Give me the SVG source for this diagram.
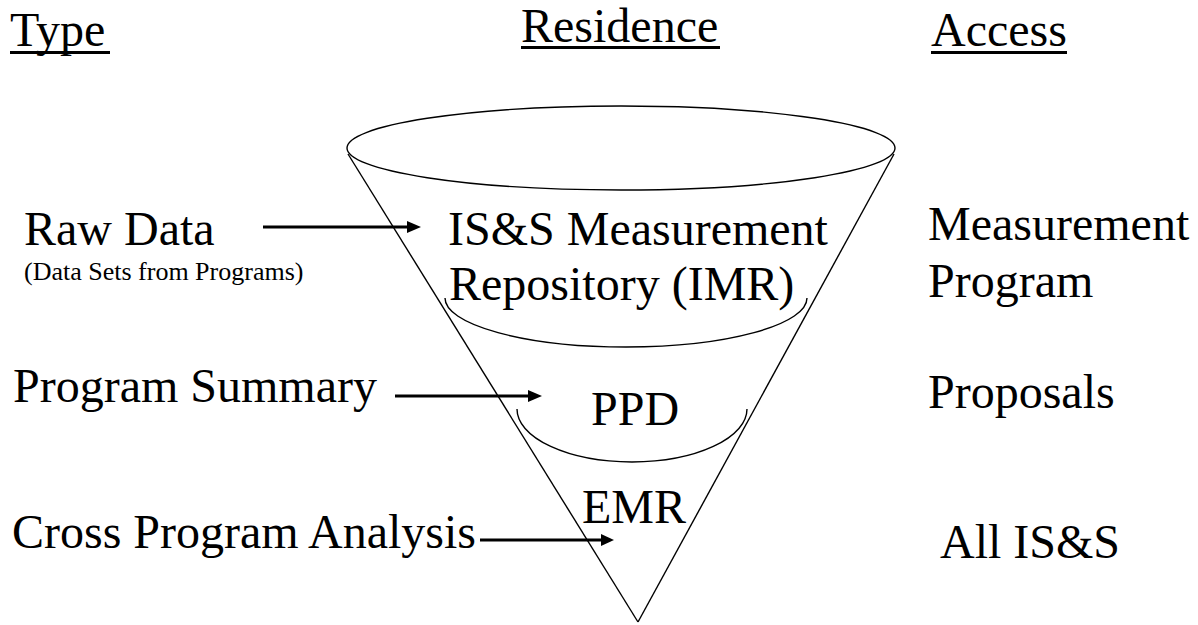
<svg xmlns="http://www.w3.org/2000/svg" width="1198" height="625" viewBox="0 0 1198 625">
  <style>
    text { font-family: "Liberation Serif", "Times New Roman", serif; fill: #000; font-size: 48px; }
    .small { font-size: 26px; }
    .outline { fill: none; stroke: #000; stroke-width: 1.4; }
    .rule { fill: #000; }
    .shaft { stroke: #000; stroke-width: 3; fill: none; }
    .head { fill: #000; }
  </style>

  <rect width="1198" height="625" fill="#fff"/>

  <!-- Column headings -->
  <g id="headings">
    <text x="10" y="46">Type</text>
    <rect class="rule" x="10" y="51" width="100" height="3"/>
    <text x="521" y="42">Residence</text>
    <rect class="rule" x="521" y="46" width="199" height="3"/>
    <text x="931" y="46">Access</text>
    <rect class="rule" x="931" y="51" width="136" height="3"/>
  </g>

  <!-- Funnel: rim, sides and level bands -->
  <g id="funnel">
    <ellipse class="outline" cx="621" cy="148" rx="274" ry="42"/>
    <line class="outline" x1="348" y1="154" x2="638" y2="622"/>
    <line class="outline" x1="894" y1="154" x2="638" y2="622"/>
  </g>

  <g id="imr">
    <path class="outline" d="M 445 298 A 181 49 0 0 0 807 298"/>
    <text x="448" y="245">IS&amp;S Measurement</text>
    <text x="449" y="300">Repository (IMR)</text>
  </g>

  <g id="ppd">
    <path class="outline" d="M 517 409 A 115 53 0 0 0 747 409"/>
    <text x="591" y="425">PPD</text>
  </g>

  <g id="emr">
    <text x="582" y="523">EMR</text>
  </g>

  <!-- Data types -->
  <g id="raw-data">
    <text x="24" y="245">Raw Data</text>
    <text class="small" x="24" y="280">(Data Sets from Programs)</text>
  </g>
  <g id="program-summary">
    <text x="13" y="402">Program Summary</text>
  </g>
  <g id="cross-program">
    <text x="12" y="548">Cross Program Analysis</text>
  </g>

  <!-- Access groups -->
  <g id="access-measurement">
    <text x="928" y="240">Measurement</text>
    <text x="928" y="297">Program</text>
  </g>
  <g id="access-proposals">
    <text x="928" y="408">Proposals</text>
  </g>
  <g id="access-all">
    <text x="940" y="558">All IS&amp;S</text>
  </g>

  <!-- Connectors -->
  <g id="connectors">
    <line class="shaft" x1="263" y1="227" x2="408" y2="227"/>
    <polygon class="head" points="421,227 407,221 407,233"/>
    <line class="shaft" x1="395" y1="396" x2="529" y2="396"/>
    <polygon class="head" points="542,396 528,390 528,402"/>
    <line class="shaft" x1="480" y1="540" x2="602" y2="540"/>
    <polygon class="head" points="614,540 601,534 601,546"/>
  </g>
</svg>
